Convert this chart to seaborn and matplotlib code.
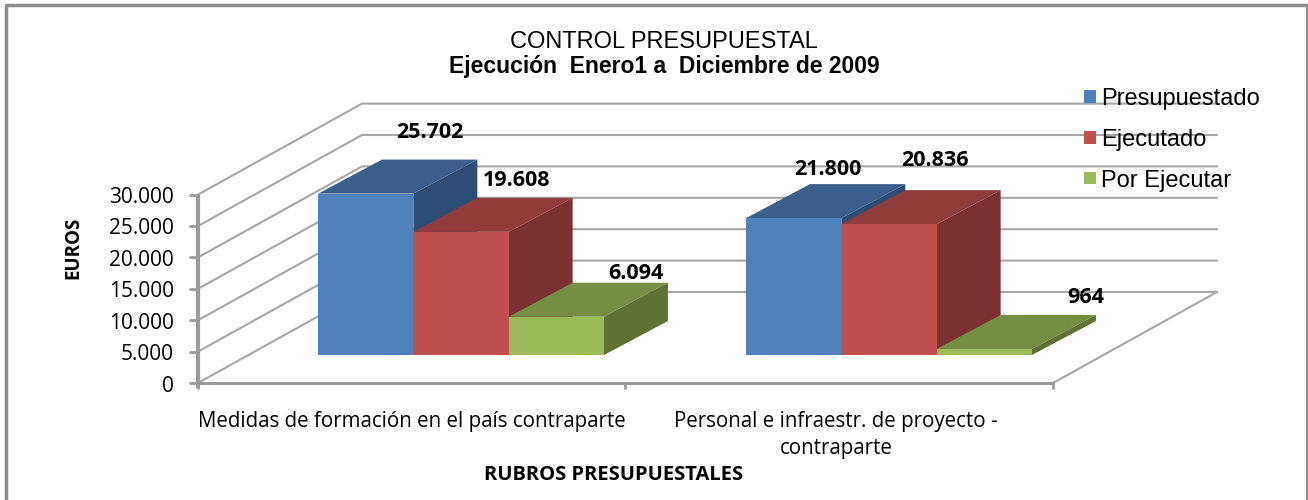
import pandas as pd
import matplotlib
matplotlib.use("Agg")
import matplotlib.pyplot as plt
from matplotlib.patches import Polygon
import seaborn as sns

categories = ['Medidas de formación en el país contraparte',
              'Personal e infraestr. de proyecto -\ncontraparte']
series_names = ['Presupuestado', 'Ejecutado', 'Por Ejecutar']
presupuestado = [25702, 21800]
ejecutado = [19608, 20836]
por_ejecutar = [6094, 964]
y_ticks = [0, 5000, 10000, 15000, 20000, 25000, 30000]

# pixel scale of the value axis and of the category axis
px_per_euro = 0.00628
px_per_cat = 428
x0_px, base_px = 461, 355
W, H = 1308, 500

front = ['#4F81BD', '#C0504D', '#9BBB59']
tops = ['#3B5F8C', '#8F3C3A', '#768E43']
sides = ['#2F4C72', '#7A3130', '#5F7236']
grey = '#9A9A9A'
# label offsets from the top centre of each bar, in pixels
label_off = [(64, -61), (34, -49), (56, -51), (46, -64), (80, -43), (101, -51)]


def dx(px):
    return px / px_per_cat


def dy(px):
    return px / px_per_euro


def fx(px):
    return (px - x0_px) / px_per_cat


def fy(px):
    return (base_px - px) / px_per_euro


df = pd.DataFrame({'rubro': categories * 3,
                   'serie': [s for s in series_names for _ in categories],
                   'euros': presupuestado + ejecutado + por_ejecutar})

sns.set_theme(style='white')
fig = plt.figure(figsize=(W / 100, H / 100), dpi=100)
ax = fig.add_axes([0, 0, 1, 1])
sns.barplot(data=df, x='rubro', y='euros', hue='serie', hue_order=series_names,
            palette=front, saturation=1, width=0.668, gap=0, legend=True,
            errorbar=None, ax=ax, linewidth=0, zorder=6)
ax.set_xlim(fx(0), fx(W))
ax.set_ylim(fy(H), fy(0))
ax.axis('off')

# walls and gridlines
floor_h = fy(383)
wall_dx, wall_dy = dx(164), dy(91)
left_x, right_x = fx(198), fx(1053)
for v in y_ticks:
    y = floor_h + v
    ax.plot([left_x, left_x + wall_dx, right_x + wall_dx],
            [y, y + wall_dy, y + wall_dy], color='#A6A6A6', lw=1.5, zorder=1)
    ax.plot([left_x - dx(8), left_x], [y, y], color=grey, lw=2, zorder=2)
    ax.text(fx(174), y - dy(3), f'{v:,}'.replace(',', '.'), ha='right', va='center',
            fontsize=15, family='Open Sans', color='black')
ax.plot([right_x, right_x + wall_dx], [floor_h, floor_h + wall_dy],
        color='#A6A6A6', lw=1.5, zorder=1)
ax.plot([left_x, left_x], [floor_h - dy(5), floor_h + y_ticks[-1]],
        color=grey, lw=3, zorder=2, solid_capstyle='butt')
ax.plot([left_x, right_x], [floor_h, floor_h], color=grey, lw=2.2, zorder=2)
for tx in [left_x, (left_x + right_x) / 2, right_x]:
    ax.plot([tx, tx], [floor_h, floor_h - dy(6)], color=grey, lw=2, zorder=2,
            solid_capstyle='butt')

# depth faces of the bars, built from the bars seaborn drew
depth_x, depth_y = dx(64), dy(34)
n = 0
for i, cont in enumerate(ax.containers):
    for bar in cont:
        x, w, h = bar.get_x(), bar.get_width(), bar.get_height()
        ax.add_patch(Polygon([(x, h), (x + w, h), (x + w + depth_x, h + depth_y),
                              (x + depth_x, h + depth_y)],
                             fc=tops[i], ec='none', zorder=3 + i))
        ax.add_patch(Polygon([(x + w, 0), (x + w + depth_x, depth_y),
                              (x + w + depth_x, h + depth_y), (x + w, h)],
                             fc=sides[i], ec='none', zorder=3 + i))
        ox, oy = label_off[n]
        n += 1
        ax.text(x + w / 2 + dx(ox), h + dy(-oy), f'{int(h):,}'.replace(',', '.'),
                ha='center', va='center', fontsize=15.5, family='Open Sans',
                fontweight='bold', color='black', zorder=9)

ax.text(fx(412), fy(422), categories[0], ha='center', va='center',
        fontsize=14.8, family='Open Sans', color='black')
ax.text(fx(836), fy(435), categories[1], ha='center', va='center',
        fontsize=14.8, family='Open Sans', color='black', linespacing=1.35)
ax.text(fx(614), fy(475), 'RUBROS PRESUPUESTALES', ha='center', va='center',
        fontsize=14.5, family='Open Sans', fontweight='bold', color='black')
ax.text(fx(73), fy(248), 'EUROS', ha='center', va='center', rotation=90,
        fontsize=13.5, family='Open Sans', fontweight='bold', color='black')
ax.text(fx(664), fy(42), 'CONTROL PRESUPUESTAL', ha='center', va='center',
        fontsize=17, family='Liberation Sans', color='black')
ax.text(fx(664), fy(66), 'Ejecución  Enero1 a  Diciembre de 2009', ha='center',
        va='center', fontsize=16.5, family='Liberation Sans', fontweight='bold',
        color='black')

handles, labels = ax.get_legend_handles_labels()
leg = ax.legend(handles, labels, loc='upper left',
                bbox_to_anchor=(1084 / W, 1 - 88 / H), frameon=False,
                prop={'family': 'Liberation Sans', 'size': 17},
                handlelength=0.5, handleheight=0.42, handletextpad=0.22,
                labelspacing=0.8, borderpad=0, borderaxespad=0, labelcolor='black')
leg.set_zorder(10)

# outer frame of the picture
fig.add_artist(plt.Line2D([6 / W, 6 / W, 1307 / W], [0, 1 - 5 / H, 1 - 5 / H],
                          color='#8C8C8C', lw=2.5))
fig.add_artist(plt.Line2D([1307 / W, 1307 / W], [0, 1 - 5 / H],
                          color='#8C8C8C', lw=1.5))

plt.savefig('out.png', dpi=100)
